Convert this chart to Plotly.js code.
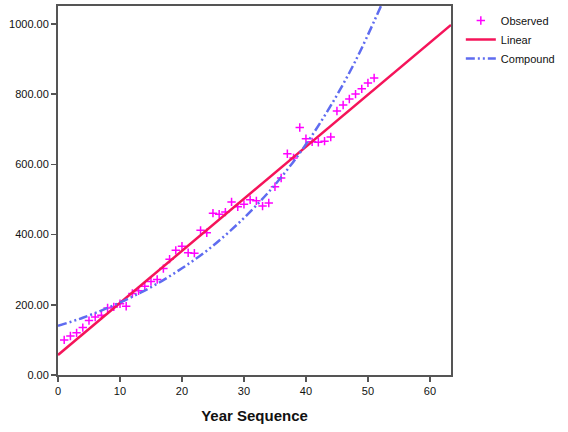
<!DOCTYPE html>
<html>
<head>
<meta charset="utf-8">
<script src="https://cdn.plot.ly/plotly-3.0.1.min.js"></script>
<style>html,body{margin:0;padding:0;background:#fff;}#chart{width:568px;height:432px;}</style>
</head>
<body>
<div id="chart"></div>
<script>
// Observed values by year sequence
var yearSeq = [1,2,3,4,5,6,7,8,9,10,11,12,13,14,15,16,17,18,19,20,21,22,23,24,25,26,27,28,29,30,31,32,33,34,35,36,37,38,39,40,41,42,43,44,45,46,47,48,49,50,51];
var observed = [100,111,120,135,155,165,170,191,194,203,196,232,240,253,266,272,303,330,355,367,348,347,412,405,461,458,464,493,479,486,499,496,481,490,536,561,630,618,705,673,664,663,666,678,752,769,786,800,815,832,846];

// Linear fit line (read at its ends)
var linearX = [0, 63.4];
var linearY = [57, 997];

// Compound fit curve
var compoundX = [0, 4, 8, 12, 16, 20, 24, 28, 32, 36, 40, 44, 48, 52.1];
var compoundY = [140, 163, 191, 223, 260, 304, 354, 414, 483, 563, 657, 767, 895, 1051];

var xTicks = [0, 10, 20, 30, 40, 50, 60];
var yTicks = [0, 200, 400, 600, 800, 1000];

var FONT = "Liberation Sans, Arial, sans-serif";

var traces = [
  {
    type: 'scatter', mode: 'markers', name: 'Observed',
    x: yearSeq, y: observed,
    marker: {symbol: 'cross-thin', size: 6, color: '#ff00ff', line: {color: '#ff00ff', width: 1.5}}
  },
  {
    type: 'scatter', mode: 'lines', name: 'Linear',
    x: linearX, y: linearY,
    line: {color: '#f5145a', width: 2.5}
  },
  {
    type: 'scatter', mode: 'lines', name: 'Compound',
    x: compoundX, y: compoundY,
    line: {color: '#5f6cf0', width: 2.5, shape: 'spline', dash: '9px,3px,2px,3px,2px,3px'}
  }
];

var layout = {
  width: 568, height: 432,
  margin: {l: 58, r: 117, t: 6, b: 57, autoexpand: false},
  paper_bgcolor: '#ffffff', plot_bgcolor: '#ffffff',
  font: {family: FONT, size: 11, color: '#111'},
  showlegend: true,
  legend: {
    x: 1.025, y: 1.0, xanchor: 'left', yanchor: 'top',
    font: {family: FONT, size: 11, color: '#111'},
    itemwidth: 30, tracegroupgap: 0, bgcolor: 'rgba(0,0,0,0)'
  },
  xaxis: {
    range: [0, 63.4], tickvals: xTicks, ticktext: xTicks.map(String),
    showgrid: false, zeroline: false,
    showline: true, linecolor: '#555', linewidth: 2, mirror: true,
    ticks: 'outside', ticklen: 5, tickwidth: 1.5, tickcolor: '#555',
    tickfont: {family: FONT, size: 11, color: '#111'},
    title: {text: '<b>Year Sequence</b>', font: {family: FONT, size: 15, color: '#111'}, standoff: 14}
  },
  yaxis: {
    range: [0, 1051], tickvals: yTicks, ticktext: yTicks.map(function(v){return v.toFixed(2);}),
    showgrid: false, zeroline: false,
    showline: true, linecolor: '#555', linewidth: 2, mirror: true,
    ticks: 'outside', ticklen: 5, tickwidth: 1.5, tickcolor: '#555',
    tickfont: {family: FONT, size: 11, color: '#111'}
  }
};

Plotly.newPlot('chart', traces, layout, {displayModeBar: false, staticPlot: true});
</script>
</body>
</html>
